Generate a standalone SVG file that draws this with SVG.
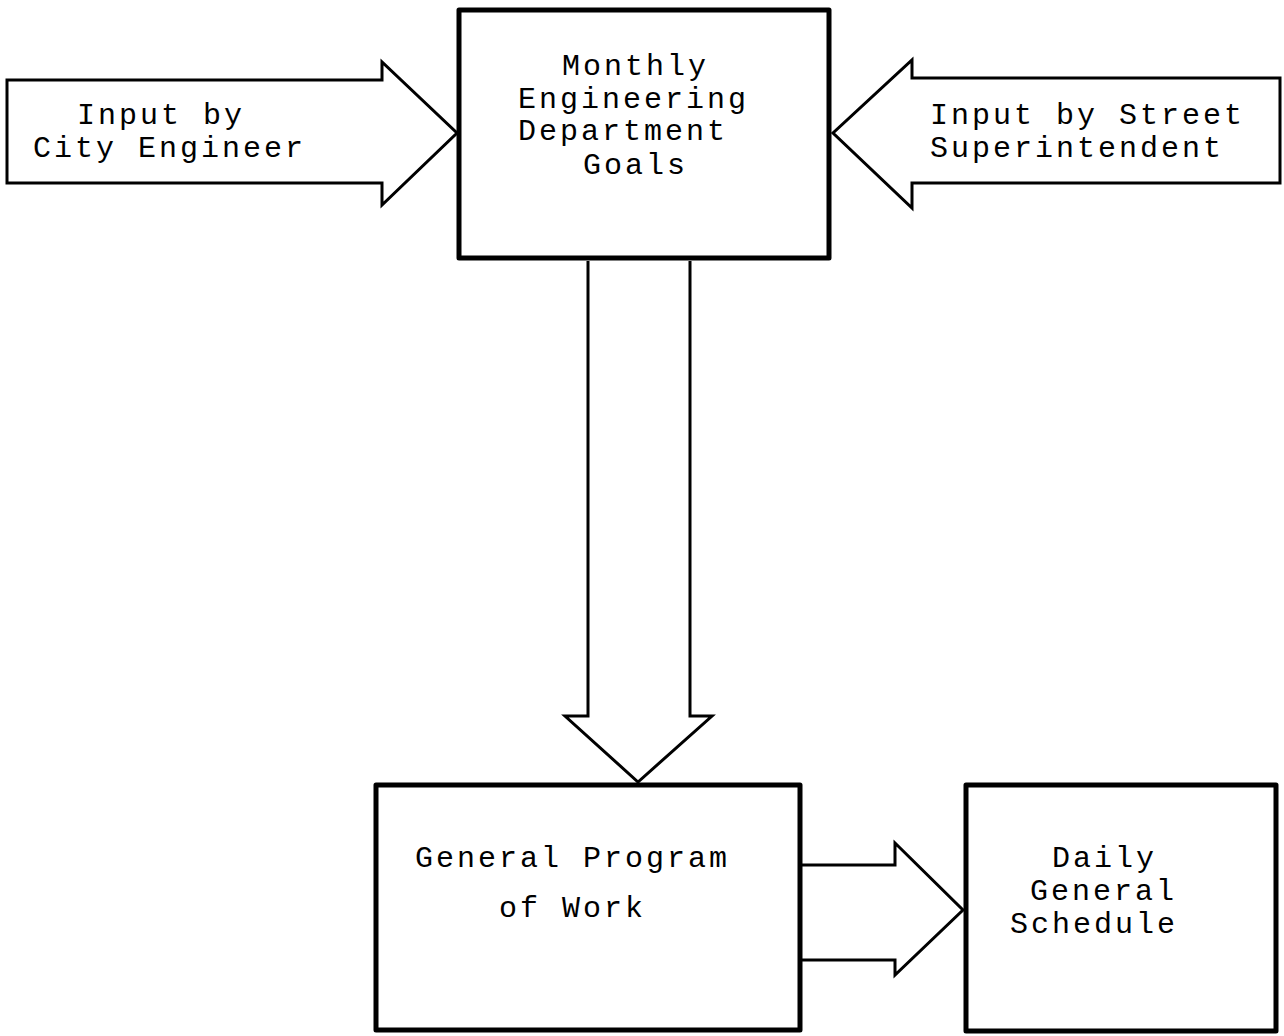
<svg xmlns="http://www.w3.org/2000/svg" width="1284" height="1036" viewBox="0 0 1284 1036">
  <style>
    .box { fill: #fff; stroke: #000; stroke-width: 5; stroke-linejoin: round; }
    .arrow { fill: #fff; stroke: #000; stroke-width: 3; stroke-linejoin: miter; }
    .label { font-family: "Liberation Mono", "DejaVu Sans Mono", monospace; font-size: 30px; letter-spacing: 3px; fill: #000; }
  </style>
  <rect width="1284" height="1036" fill="#fff"/>

  <!-- block arrows linking the boxes -->
  <g id="connectors">
    <path class="arrow" d="M7,80 L382,80 L382,62 L457,133 L382,205 L382,183 L7,183 Z"/>
    <path class="arrow" d="M1280,78 L912,78 L912,60 L833,133 L912,208 L912,183 L1280,183 Z"/>
    <path class="arrow" d="M588,261 L588,716 L565,716 L638,782 L712,716 L690,716 L690,261"/>
    <path class="arrow" d="M800,865 L895,865 L895,843 L963,910 L895,975 L895,960 L800,960"/>
  </g>

  <g id="input-city-engineer">
    <text class="label" x="77" y="124">Input by</text>
    <text class="label" x="33" y="157">City Engineer</text>
  </g>

  <g id="input-street-superintendent">
    <text class="label" x="930" y="124">Input by Street</text>
    <text class="label" x="930" y="157">Superintendent</text>
  </g>

  <g id="monthly-goals">
    <rect class="box" x="459" y="10" width="370" height="248"/>
    <text class="label" x="562" y="75">Monthly</text>
    <text class="label" x="518" y="108">Engineering</text>
    <text class="label" x="518" y="140">Department</text>
    <text class="label" x="583" y="174">Goals</text>
  </g>

  <g id="general-program">
    <rect class="box" x="376" y="785" width="424" height="245"/>
    <text class="label" x="415" y="867">General Program</text>
    <text class="label" x="499" y="917">of Work</text>
  </g>

  <g id="daily-schedule">
    <rect class="box" x="966" y="785" width="310" height="246"/>
    <text class="label" x="1052" y="867">Daily</text>
    <text class="label" x="1030" y="900">General</text>
    <text class="label" x="1010" y="933">Schedule</text>
  </g>
</svg>
